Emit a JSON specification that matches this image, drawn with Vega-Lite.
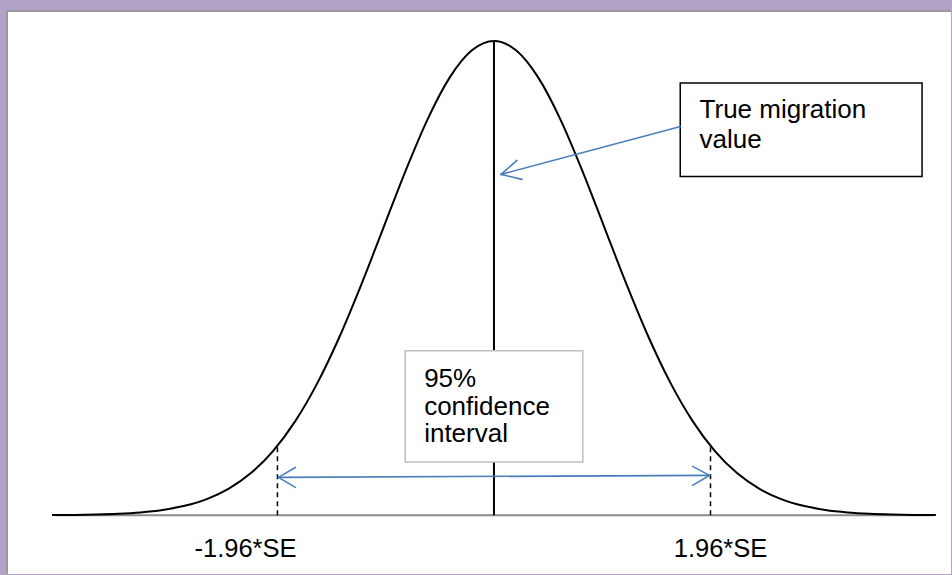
{
  "$schema": "https://vega.github.io/schema/vega-lite/v6.json",
  "autosize": {"type": "fit", "contains": "padding"},
  "width": 952,
  "height": 575,
  "padding": {"left": 6, "top": 10, "right": 0, "bottom": 0},
  "background": "#b3a2c7",
  "config": {"view": {"fill": "white", "stroke": null}},
  "datasets": {
    "curve": [
      {"z": -4.0, "d": 0.00013}, {"z": -3.8, "d": 0.00029}, {"z": -3.6, "d": 0.00061},
      {"z": -3.4, "d": 0.00123}, {"z": -3.2, "d": 0.00238}, {"z": -3.0, "d": 0.00443},
      {"z": -2.8, "d": 0.00792}, {"z": -2.6, "d": 0.01358}, {"z": -2.4, "d": 0.02239},
      {"z": -2.2, "d": 0.03547}, {"z": -2.0, "d": 0.05399}, {"z": -1.8, "d": 0.07895},
      {"z": -1.6, "d": 0.11092}, {"z": -1.4, "d": 0.14973}, {"z": -1.2, "d": 0.19419},
      {"z": -1.0, "d": 0.24197}, {"z": -0.8, "d": 0.28969}, {"z": -0.6, "d": 0.33322},
      {"z": -0.4, "d": 0.36827}, {"z": -0.2, "d": 0.39104}, {"z": 0.0, "d": 0.39894},
      {"z": 0.2, "d": 0.39104}, {"z": 0.4, "d": 0.36827}, {"z": 0.6, "d": 0.33322},
      {"z": 0.8, "d": 0.28969}, {"z": 1.0, "d": 0.24197}, {"z": 1.2, "d": 0.19419},
      {"z": 1.4, "d": 0.14973}, {"z": 1.6, "d": 0.11092}, {"z": 1.8, "d": 0.07895},
      {"z": 2.0, "d": 0.05399}, {"z": 2.2, "d": 0.03547}, {"z": 2.4, "d": 0.02239},
      {"z": 2.6, "d": 0.01358}, {"z": 2.8, "d": 0.00792}, {"z": 3.0, "d": 0.00443},
      {"z": 3.2, "d": 0.00238}, {"z": 3.4, "d": 0.00123}, {"z": 3.6, "d": 0.00061},
      {"z": 3.8, "d": 0.00029}, {"z": 4.0, "d": 0.00013}
    ],
    "segments": [
      {"part": "frame", "x": -4.408, "x2": 4.137, "y": 0.4241, "y2": 0.4241},
      {"part": "frame", "x": -4.408, "x2": -4.408, "y": 0.4241, "y2": -0.0494},
      {"part": "baseline", "x": -3.97, "x2": 3.98, "y": 0, "y2": 0},
      {"part": "center", "x": 0, "x2": 0, "y": 0, "y2": 0.39894},
      {"part": "dash", "x": -1.96, "x2": -1.96, "y": 0, "y2": 0.0584},
      {"part": "dash", "x": 1.96, "x2": 1.96, "y": 0, "y2": 0.0584},
      {"part": "arrow", "x": -1.951, "x2": 1.951, "y": 0.03185, "y2": 0.03353},
      {"part": "arrow", "x": -1.951, "x2": -1.798, "y": 0.03185, "y2": 0.0402},
      {"part": "arrow", "x": -1.951, "x2": -1.798, "y": 0.03185, "y2": 0.0235},
      {"part": "arrow", "x": 1.951, "x2": 1.798, "y": 0.03353, "y2": 0.0411},
      {"part": "arrow", "x": 1.951, "x2": 1.798, "y": 0.03353, "y2": 0.0251},
      {"part": "arrow", "x": 1.689, "x2": 0.0632, "y": 0.3269, "y2": 0.2867},
      {"part": "arrow", "x": 0.0632, "x2": 0.2078, "y": 0.2867, "y2": 0.2984},
      {"part": "arrow", "x": 0.0632, "x2": 0.2529, "y": 0.2867, "y2": 0.2825}
    ],
    "boxes": [
      {"box": "true", "x": 1.686, "x2": 3.875, "y": 0.3635, "y2": 0.2850},
      {"box": "ci", "x": -0.804, "x2": 0.804, "y": 0.1383, "y2": 0.0447}
    ],
    "labels": [
      {"kind": "box", "text": "True migration", "x": 1.861, "y": 0.3345},
      {"kind": "box", "text": "value", "x": 1.861, "y": 0.3085},
      {"kind": "box", "text": "95%", "x": -0.632, "y": 0.1081},
      {"kind": "box", "text": "confidence", "x": -0.632, "y": 0.0847},
      {"kind": "box", "text": "interval", "x": -0.632, "y": 0.0612},
      {"kind": "axis", "text": "-1.96*SE", "x": -2.249, "y": -0.0352},
      {"kind": "axis", "text": "1.96*SE", "x": 2.0506, "y": -0.0352}
    ]
  },
  "encoding": {},
  "layer": [
    {
      "data": {"name": "segments"},
      "transform": [{"filter": "datum.part === 'baseline'"}],
      "mark": {"type": "rule", "color": "#8c8c8c", "strokeWidth": 2},
      "encoding": {
        "x": {"field": "x", "type": "quantitative", "scale": {"domain": [-4.408, 4.137], "nice": false, "zero": false}, "axis": null},
        "x2": {"field": "x2"},
        "y": {"field": "y", "type": "quantitative", "scale": {"domain": [-0.0494, 0.4241], "nice": false, "zero": false}, "axis": null},
        "y2": {"field": "y2"}
      }
    },
    {
      "data": {"name": "segments"},
      "transform": [{"filter": "datum.part === 'frame'"}],
      "mark": {"type": "rule", "color": "#9a9a9a", "strokeWidth": 2},
      "encoding": {
        "x": {"field": "x", "type": "quantitative"},
        "x2": {"field": "x2"},
        "y": {"field": "y", "type": "quantitative"},
        "y2": {"field": "y2"}
      }
    },
    {
      "data": {"name": "curve"},
      "mark": {"type": "line", "color": "black", "strokeWidth": 2, "interpolate": "monotone"},
      "encoding": {
        "x": {"field": "z", "type": "quantitative"},
        "y": {"field": "d", "type": "quantitative"}
      }
    },
    {
      "data": {"name": "segments"},
      "transform": [{"filter": "datum.part === 'center'"}],
      "mark": {"type": "rule", "color": "black", "strokeWidth": 2},
      "encoding": {
        "x": {"field": "x", "type": "quantitative"},
        "x2": {"field": "x2"},
        "y": {"field": "y", "type": "quantitative"},
        "y2": {"field": "y2"}
      }
    },
    {
      "data": {"name": "segments"},
      "transform": [{"filter": "datum.part === 'dash'"}],
      "mark": {"type": "rule", "color": "black", "strokeWidth": 1.5, "strokeDash": [5, 4]},
      "encoding": {
        "x": {"field": "x", "type": "quantitative"},
        "x2": {"field": "x2"},
        "y": {"field": "y", "type": "quantitative"},
        "y2": {"field": "y2"}
      }
    },
    {
      "data": {"name": "boxes"},
      "transform": [{"filter": "datum.box === 'true'"}],
      "mark": {"type": "rect", "fill": "white", "stroke": "black", "strokeWidth": 1.5},
      "encoding": {
        "x": {"field": "x", "type": "quantitative"},
        "x2": {"field": "x2"},
        "y": {"field": "y", "type": "quantitative"},
        "y2": {"field": "y2"}
      }
    },
    {
      "data": {"name": "boxes"},
      "transform": [{"filter": "datum.box === 'ci'"}],
      "mark": {"type": "rect", "fill": "white", "stroke": "#bfbfbf", "strokeWidth": 1.5},
      "encoding": {
        "x": {"field": "x", "type": "quantitative"},
        "x2": {"field": "x2"},
        "y": {"field": "y", "type": "quantitative"},
        "y2": {"field": "y2"}
      }
    },
    {
      "data": {"name": "segments"},
      "transform": [{"filter": "datum.part === 'arrow'"}],
      "mark": {"type": "rule", "color": "#4a7ebb", "strokeWidth": 1.6, "strokeCap": "round"},
      "encoding": {
        "x": {"field": "x", "type": "quantitative"},
        "x2": {"field": "x2"},
        "y": {"field": "y", "type": "quantitative"},
        "y2": {"field": "y2"}
      }
    },
    {
      "data": {"name": "labels"},
      "transform": [{"filter": "datum.kind === 'box'"}],
      "mark": {"type": "text", "font": "Liberation Sans", "fontSize": 26, "align": "left", "baseline": "alphabetic", "color": "black"},
      "encoding": {
        "x": {"field": "x", "type": "quantitative"},
        "y": {"field": "y", "type": "quantitative"},
        "text": {"field": "text"}
      }
    },
    {
      "data": {"name": "labels"},
      "transform": [{"filter": "datum.kind === 'axis'"}],
      "mark": {"type": "text", "font": "Liberation Sans", "fontSize": 25.5, "align": "center", "baseline": "alphabetic", "color": "black"},
      "encoding": {
        "x": {"field": "x", "type": "quantitative"},
        "y": {"field": "y", "type": "quantitative"},
        "text": {"field": "text"}
      }
    }
  ]
}
